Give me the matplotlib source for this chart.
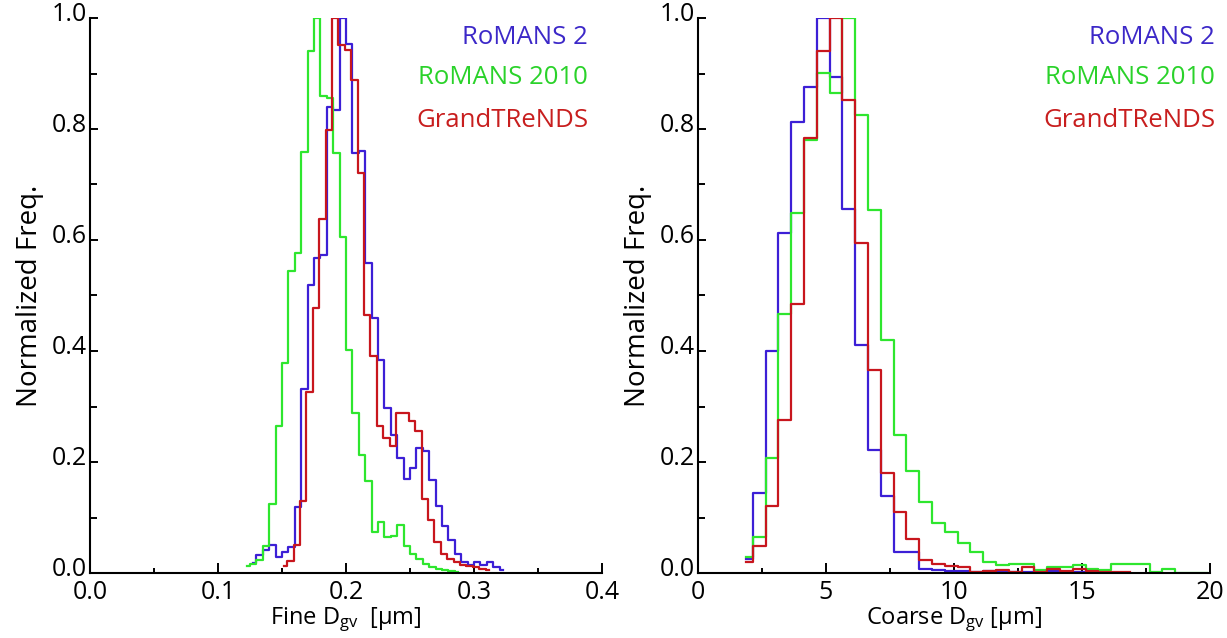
import matplotlib
matplotlib.use("Agg")
import matplotlib.pyplot as plt
import matplotlib.transforms as mtransforms
import numpy as np
from matplotlib.ticker import MultipleLocator, FormatStrFormatter

plt.rcParams['font.family'] = ['Open Sans', 'DejaVu Sans']
plt.rcParams['mathtext.default'] = 'regular'

# Fine mode histograms (bin width 0.005 um), values per bin
fine_bin = 0.005
fine_blue_c0 = 0.1275     # first centre, RoMANS 2
fine_blue = [0.018, 0.032, 0.041, 0.05, 0.029, 0.038, 0.047, 0.119, 0.331, 0.519,
             0.567, 0.573, 0.84, 0.834, 1.0, 0.954, 0.756, 0.76, 0.558, 0.459,
             0.384, 0.297, 0.249, 0.207, 0.169, 0.19, 0.226, 0.219, 0.168, 0.12,
             0.085, 0.06, 0.035, 0.02, 0.015, 0.02, 0.015, 0.02, 0.01, 0.005]
fine_green_c0 = 0.1225    # RoMANS 2010
fine_green = [0.012, 0.017, 0.023, 0.049, 0.124, 0.265, 0.379, 0.545, 0.576, 0.759,
              0.94, 1.0, 0.859, 0.855, 0.756, 0.605, 0.402, 0.289, 0.213, 0.166,
              0.074, 0.092, 0.064, 0.066, 0.086, 0.049, 0.035, 0.025, 0.017, 0.011,
              0.008, 0.005, 0.003, 0.002]
fine_red_c0 = 0.1515      # GrandTReNDS
fine_red = [0.012, 0.022, 0.05, 0.13, 0.327, 0.477, 0.637, 0.798, 1.0, 0.951,
            0.942, 0.889, 0.72, 0.465, 0.391, 0.264, 0.243, 0.228, 0.289, 0.289,
            0.273, 0.255, 0.133, 0.096, 0.055, 0.035, 0.025, 0.02, 0.015, 0.012,
            0.01, 0.008, 0.005]

# Coarse mode histograms (bin width 0.5 um)
coarse_bin = 0.5
coarse_c0 = 1.89
coarse_blue = [0.025, 0.144, 0.40, 0.612, 0.813, 0.875, 1.0, 0.894, 0.655, 0.411,
               0.222, 0.139, 0.038, 0.037, 0.008, 0.005, 0.004, 0.003, 0.002, 0.003,
               0.002, 0.002, 0.002, 0.001, 0.003, 0.002, 0.002, 0.001, 0.0]
coarse_green = [0.028, 0.064, 0.207, 0.467, 0.649, 0.78, 0.901, 0.865, 1.0, 0.825,
                0.654, 0.42, 0.249, 0.184, 0.128, 0.09, 0.073, 0.054, 0.037, 0.019,
                0.014, 0.016, 0.016, 0.005, 0.01, 0.01, 0.014, 0.008, 0.005, 0.016,
                0.016, 0.017, 0.002, 0.008, 0.0, 0.0, 0.0]
coarse_red = [0.019, 0.049, 0.121, 0.276, 0.485, 0.783, 0.941, 1.0, 0.853, 0.595,
              0.366, 0.181, 0.11, 0.062, 0.023, 0.016, 0.013, 0.01, 0.002, 0.004,
              0.006, 0.002, 0.011, 0.002, 0.007, 0.004, 0.007, 0.004, 0.002, 0.001,
              0.001]

names = ["RoMANS 2", "RoMANS 2010", "GrandTReNDS"]
line_colors = ["#3c1fd6", "#2ee62e", "#c8161d"]
text_colors = ["#3c28c8", "#2ad22a", "#c81e1e"]

fig = plt.figure(figsize=(12.27, 6.38), dpi=100)
ax1 = fig.add_axes([90 / 1227, 65 / 638, 512 / 1227, 555 / 638])
ax2 = fig.add_axes([698 / 1227, 65 / 638, 512 / 1227, 555 / 638])


def centres(c0, width, vals):
    return c0 + width * np.arange(len(vals))


fine = [(fine_blue_c0, fine_blue), (fine_green_c0, fine_green), (fine_red_c0, fine_red)]
for (c0, vals), col in zip(fine, line_colors):
    ax1.step(centres(c0, fine_bin, vals), vals, where='mid', color=col, lw=1.6)

coarse = [coarse_blue, coarse_green, coarse_red]
for vals, col in zip(coarse, line_colors):
    ax2.step(centres(coarse_c0, coarse_bin, vals), vals, where='mid', color=col, lw=1.6)

ax1.set_xlim(0, 0.4)
ax1.xaxis.set_major_locator(MultipleLocator(0.1))
ax1.xaxis.set_minor_locator(MultipleLocator(0.05))
ax1.xaxis.set_major_formatter(FormatStrFormatter('%.1f'))
ax1.set_xlabel("Fine D$_{gv}$  [µm]", fontsize=17, labelpad=0)

ax2.set_xlim(0, 20)
ax2.xaxis.set_major_locator(MultipleLocator(5))
ax2.xaxis.set_minor_locator(MultipleLocator(2.5))
ax2.set_xlabel("Coarse D$_{gv}$ [µm]", fontsize=17, labelpad=0)

# y tick labels sit a little above their ticks in the original
lift = mtransforms.ScaledTranslation(0, 5 / 72, fig.dpi_scale_trans)

for ax in (ax1, ax2):
    ax.set_ylim(0, 1.0)
    ax.yaxis.set_major_locator(MultipleLocator(0.2))
    ax.yaxis.set_minor_locator(MultipleLocator(0.1))
    ax.yaxis.set_major_formatter(FormatStrFormatter('%.1f'))
    ax.set_ylabel("Normalized Freq.", fontsize=20, labelpad=6)
    ax.spines['top'].set_visible(False)
    ax.spines['right'].set_visible(False)
    ax.spines['left'].set_linewidth(1.5)
    ax.spines['bottom'].set_linewidth(1.5)
    ax.tick_params(which='both', direction='in', width=1.4, labelsize=18, color='black')
    ax.tick_params(axis='x', which='major', length=7, pad=5)
    ax.tick_params(axis='x', which='minor', length=3.5)
    ax.tick_params(axis='y', which='major', length=6, pad=2)
    ax.tick_params(axis='y', which='minor', length=5)
    for lab in ax.get_yticklabels():
        lab.set_transform(lab.get_transform() + lift)
    for ypos, name, col in zip([0.964, 0.892, 0.816], names, text_colors):
        ax.text(0.973 if ax is ax1 else 1.01, ypos, name, transform=ax.transAxes,
                ha='right', va='center', color=col, fontsize=18.5)

fig.savefig("out.png", dpi=100)
plt.close()
